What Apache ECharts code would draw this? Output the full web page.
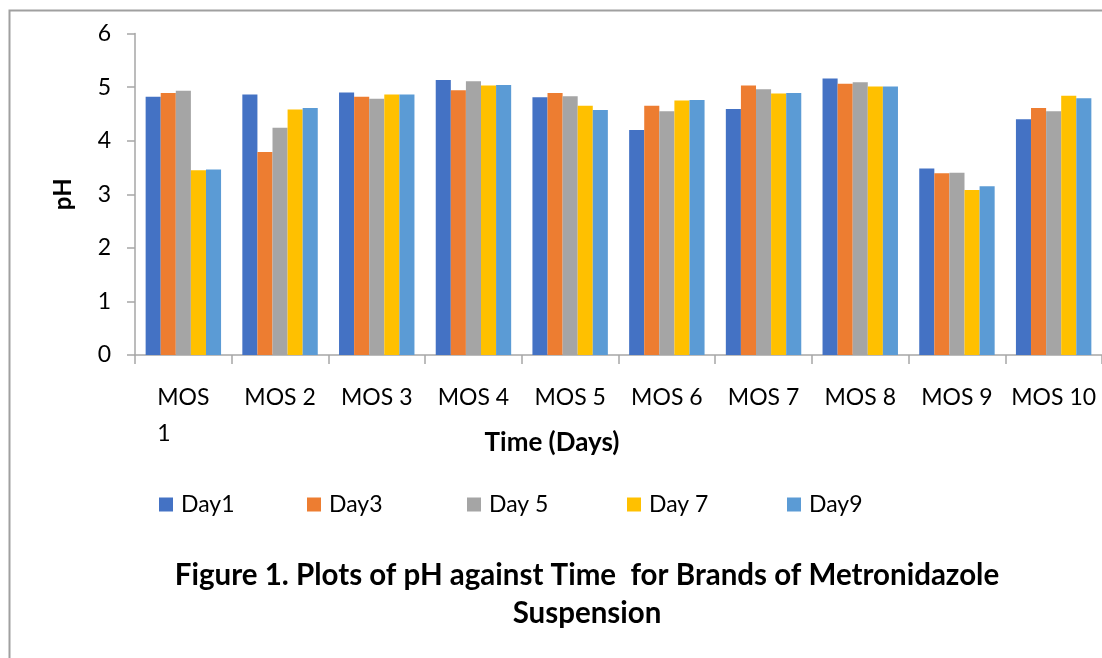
<!DOCTYPE html>
<html>
<head>
<meta charset="utf-8">
<script src="https://cdn.jsdelivr.net/npm/echarts@6/dist/echarts.min.js"></script>
<style>
html,body{margin:0;padding:0;background:#fff;}
#chart{width:1102px;height:658px;}
</style>
</head>
<body>
<div id="chart"></div>
<script>
var categories = ['MOS 1','MOS 2','MOS 3','MOS 4','MOS 5','MOS 6','MOS 7','MOS 8','MOS 9','MOS 10'];
var seriesNames = ['Day1','Day3','Day 5','Day 7','Day9'];
var day1 = [4.82, 4.86, 4.90, 5.13, 4.81, 4.20, 4.59, 5.16, 3.48, 4.40];
var day3 = [4.89, 3.79, 4.82, 4.94, 4.89, 4.65, 5.03, 5.06, 3.39, 4.61];
var day5 = [4.93, 4.24, 4.78, 5.11, 4.83, 4.55, 4.96, 5.09, 3.40, 4.55];
var day7 = [3.45, 4.58, 4.86, 5.03, 4.65, 4.75, 4.88, 5.01, 3.08, 4.84];
var day9 = [3.46, 4.61, 4.86, 5.04, 4.57, 4.76, 4.89, 5.01, 3.15, 4.79];
var yTicks = [0, 1, 2, 3, 4, 5, 6];
var colors = ['#4472C4', '#ED7D31', '#A5A5A5', '#FFC000', '#5B9BD5'];
var allData = [day1, day3, day5, day7, day9];

var FONT = 'Lato';
var legendLefts = [159, 307, 467, 627, 787];

var chart = echarts.init(document.getElementById('chart'));
var option = {
  animation: false,
  color: colors,
  graphic: [{
    type: 'rect',
    shape: {x: 9.5, y: 10.5, width: 1200, height: 1000},
    style: {fill: 'none', stroke: '#a0a0a0', lineWidth: 2},
    silent: true
  }],
  title: {
    text: 'Figure 1. Plots of pH against Time  for Brands of Metronidazole\nSuspension',
    left: 587,
    textAlign: 'center',
    top: 556,
    padding: 0,
    textStyle: {fontFamily: FONT, fontWeight: 'bold', fontSize: 29.5, lineHeight: 38, color: '#000'}
  },
  legend: seriesNames.map(function (n, i) {
    return {
      data: [n],
      left: legendLefts[i],
      top: 493,
      padding: 0,
      itemWidth: 14,
      itemHeight: 14,
      icon: 'rect',
      selectedMode: false,
      textStyle: {fontFamily: FONT, fontSize: 23, color: '#000', padding: [0, 0, 0, 3]}
    };
  }),
  grid: {left: 135, right: 0, top: 33.5, bottom: 303, containLabel: false},
  xAxis: {
    type: 'category',
    data: categories,
    name: 'Time (Days)',
    nameLocation: 'middle',
    nameGap: 75,
    nameMoveOverlap: false,
    nameTextStyle: {fontFamily: FONT, fontWeight: 'bold', fontSize: 26, color: '#000', padding: [0, 133, 0, 0]},
    axisLine: {lineStyle: {color: '#a6a6a6', width: 1.5}},
    axisTick: {show: true, length: 9, lineStyle: {color: '#a6a6a6', width: 1.5}},
    axisLabel: {
      interval: 0,
      fontFamily: FONT, fontSize: 23, color: '#000', margin: 25, lineHeight: 36,
      formatter: function (v, idx) {
        if (idx === 0) { return '{l|MOS}\n{l|1}'; }
        return v;
      },
      rich: {l: {align: 'left', fontFamily: FONT, fontSize: 23, color: '#000', lineHeight: 36}}
    }
  },
  yAxis: {
    type: 'value',
    min: 0,
    max: 6,
    interval: 1,
    name: 'pH',
    nameLocation: 'middle',
    nameGap: 60,
    nameMoveOverlap: false,
    nameTextStyle: {fontFamily: FONT, fontWeight: 'bold', fontSize: 24, color: '#000'},
    splitLine: {show: false},
    axisLine: {show: true, lineStyle: {color: '#a6a6a6', width: 1.5}},
    axisTick: {show: true, length: 8, lineStyle: {color: '#a6a6a6', width: 1.5}},
    axisLabel: {fontFamily: FONT, fontSize: 23, color: '#000', margin: 24}
  },
  series: allData.map(function (d, i) {
    return {
      name: seriesNames[i],
      type: 'bar',
      data: d,
      barGap: '0%',
      barCategoryGap: '22%',
      itemStyle: {color: colors[i]}
    };
  })
};
chart.setOption(option);
</script>
</body>
</html>
